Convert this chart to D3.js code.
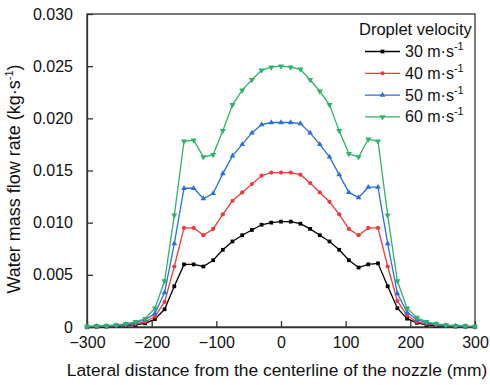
<!DOCTYPE html>
<html lang="en">
<head>
<meta charset="UTF-8">
<script src="https://cdn.jsdelivr.net/npm/d3@7"></script>
<style>
    body { margin: 0; background: #fff; }
    svg { font-family: "Liberation Sans", Arial, sans-serif; }
    .axis text { font-size: 16px; fill: #111; }
    .axis path, .axis line { stroke: #333; stroke-width: 1.3px; }
</style>
</head>
<body>
<svg id="chart" width="490" height="385"></svg>
<script>
    // lateral position (mm), 15 mm step
    var positions = [-300, -285, -270, -255, -240, -225, -210, -195, -180, -165, -150, -135, -120, -105, -90, -75, -60, -45, -30, -15,
        0, 15, 30, 45, 60, 75, 90, 105, 120, 135, 150, 165, 180, 195, 210, 225, 240, 255, 270, 285, 300];

    var v30 = [0.00002, 0.00003, 0.00005, 0.0001, 0.00015, 0.0002, 0.00035, 0.00075, 0.0017, 0.0039, 0.0060, 0.0060, 0.0058, 0.0064, 0.0074, 0.0082, 0.0088, 0.0093, 0.0098, 0.0100,
        0.0101, 0.0101, 0.0099, 0.0094, 0.0088, 0.0082, 0.0074, 0.0064, 0.0057, 0.0060, 0.0061, 0.0039, 0.0018, 0.0008, 0.0004, 0.0002, 0.00012, 0.00008, 0.00005, 0.00003, 0.00002];
    var v40 = [0.00003, 0.00005, 0.00008, 0.00012, 0.0002, 0.0003, 0.0005, 0.0010, 0.0024, 0.0058, 0.0095, 0.0095, 0.0088, 0.0094, 0.0108, 0.0121, 0.0129, 0.0137, 0.0145, 0.0148,
        0.0148, 0.0148, 0.0146, 0.0138, 0.0129, 0.0120, 0.0108, 0.0094, 0.0088, 0.0095, 0.0095, 0.0058, 0.0025, 0.0011, 0.0005, 0.0003, 0.0002, 0.00012, 0.00008, 0.00005, 0.00003];
    var v50 = [0.00004, 0.00006, 0.0001, 0.00015, 0.00025, 0.0004, 0.0007, 0.0013, 0.0033, 0.0080, 0.0133, 0.0133, 0.0123, 0.0128, 0.0147, 0.0164, 0.0175, 0.0186, 0.0194, 0.0196,
        0.0196, 0.0196, 0.0195, 0.0186, 0.0175, 0.0163, 0.0146, 0.0129, 0.0124, 0.0134, 0.0134, 0.0080, 0.0032, 0.0014, 0.0007, 0.0004, 0.00025, 0.00015, 0.0001, 0.00006, 0.00004];
    var v60 = [0.00005, 0.0001, 0.00012, 0.0002, 0.0003, 0.0005, 0.0008, 0.0018, 0.0044, 0.0107, 0.0178, 0.0179, 0.0163, 0.0165, 0.0188, 0.0213, 0.0227, 0.0237, 0.0246, 0.0249,
        0.0250, 0.0249, 0.0247, 0.0237, 0.0226, 0.0213, 0.0188, 0.0166, 0.0163, 0.0180, 0.0178, 0.0107, 0.0044, 0.0018, 0.0009, 0.0005, 0.0003, 0.0002, 0.00012, 0.0001, 0.00005];

    var seriesNames = ["30", "40", "50", "60"];
    var seriesValues = [v30, v40, v50, v60];
    var seriesColors = ["#000000", "#f23a3a", "#2a6fe0", "#2fb26a"];
    var seriesMarkers = [d3.symbolSquare, d3.symbolCircle, d3.symbolTriangle, "down"];

    var xTicks = [-300, -200, -100, 0, 100, 200, 300];
    var yTicks = [0, 0.005, 0.010, 0.015, 0.020, 0.025, 0.030];

    var svg = d3.select("#chart");
    var margin = {left: 87, right: 15, top: 14, bottom: 58};
    var width = 490 - margin.left - margin.right;
    var height = 385 - margin.top - margin.bottom;

    var x = d3.scaleLinear().domain([-300, 300]).range([0, width]);
    var y = d3.scaleLinear().domain([0, 0.030]).range([height, 0]);

    var g = svg.append("g").attr("transform", "translate(" + margin.left + "," + margin.top + ")");

    // frame
    g.append("rect")
        .attr("width", width).attr("height", height)
        .attr("fill", "none").attr("stroke", "#333").attr("stroke-width", 1.3);

    g.append("g")
        .attr("class", "axis")
        .attr("transform", "translate(0," + height + ")")
        .call(d3.axisBottom(x).tickValues(xTicks).tickSize(-6).tickPadding(10).tickSizeOuter(0));

    g.append("g")
        .attr("class", "axis")
        .call(d3.axisLeft(y).tickValues(yTicks).tickSize(-6).tickPadding(14).tickSizeOuter(0)
            .tickFormat(function (d) { return d === 0 ? "0" : d3.format(".3f")(d); }));

    var line = d3.line()
        .x(function (d, i) { return x(positions[i]); })
        .y(function (d) { return y(d); });

    function marker(shape) {
        if (shape === "down") {
            return d3.symbol().type(d3.symbolTriangle).size(16)();
        }
        return d3.symbol().type(shape).size(14)();
    }

    seriesValues.forEach(function (vals, k) {
        var col = seriesColors[k];
        g.append("path")
            .datum(vals)
            .attr("fill", "none")
            .attr("stroke", col)
            .attr("stroke-width", 1.3)
            .attr("d", line);

        g.append("g").selectAll("path")
            .data(vals)
            .enter().append("path")
            .attr("d", marker(seriesMarkers[k]))
            .attr("fill", col)
            .attr("transform", function (d, i) {
                var t = "translate(" + x(positions[i]) + "," + y(d) + ")";
                return seriesMarkers[k] === "down" ? t + " rotate(180)" : t;
            });
    });

    // legend
    var legend = svg.append("g").attr("transform", "translate(365,0)");
    legend.append("text")
        .attr("x", -6).attr("y", 35)
        .attr("font-size", 16.5).attr("fill", "#111")
        .text("Droplet velocity");

    seriesNames.forEach(function (name, k) {
        var ly = 51.5 + k * 21.8;
        var row = legend.append("g").attr("transform", "translate(0," + ly + ")");
        row.append("line")
            .attr("x1", 0).attr("x2", 35).attr("y1", 0).attr("y2", 0)
            .attr("stroke", seriesColors[k]).attr("stroke-width", 1.3);
        row.append("path")
            .attr("d", marker(seriesMarkers[k]))
            .attr("fill", seriesColors[k])
            .attr("transform", "translate(17.5,0)" + (seriesMarkers[k] === "down" ? " rotate(180)" : ""));
        var t = row.append("text")
            .attr("x", 40).attr("y", 5.5)
            .attr("font-size", 16).attr("fill", "#111");
        t.append("tspan").text(name + " m\u00b7s");
        t.append("tspan").attr("dy", -7).attr("font-size", 11).text("-1");
    });

    // axis titles
    svg.append("text")
        .attr("x", 277).attr("y", 376)
        .attr("text-anchor", "middle")
        .attr("font-size", 17.4).attr("fill", "#111")
        .text("Lateral distance from the centerline of the nozzle (mm)");

    var yt = svg.append("text")
        .attr("transform", "translate(20,179) rotate(-90)")
        .attr("text-anchor", "middle")
        .attr("font-size", 18).attr("fill", "#111");
    yt.append("tspan").text("Water mass flow rate (kg\u00b7s");
    yt.append("tspan").attr("dy", -7).attr("font-size", 11).text("-1");
    yt.append("tspan").attr("dy", 7).text(")");
</script>
</body>
</html>
